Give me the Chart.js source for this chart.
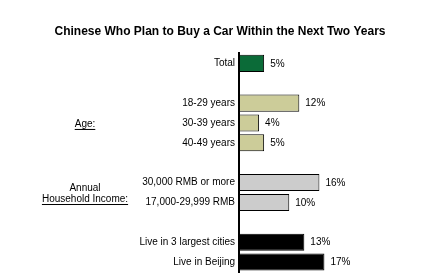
<!DOCTYPE html>
<html>
<head>
<meta charset="utf-8">
<script src="https://cdn.jsdelivr.net/npm/chart.js@4/dist/chart.umd.min.js"></script>
<style>
  html, body { margin: 0; padding: 0; background: #fff; }
  #wrap { width: 440px; height: 275px; position: relative; }
</style>
</head>
<body>
<div id="wrap"><canvas id="chart"></canvas></div>
<script>
const title = "Chinese Who Plan to Buy a Car Within the Next Two Years"
const categories = [
  "Total", "",
  "18-29 years", "30-39 years", "40-49 years", "",
  "30,000 RMB or more", "17,000-29,999 RMB", "",
  "Live in 3 largest cities", "Live in Beijing",
]
const values = [5, null, 12, 4, 5, null, 16, 10, null, 13, 17]
const barColors = [
  "#0b6b38", null,
  "#cccc99", "#cccc99", "#cccc99", null,
  "#cccccc", "#cccccc", null,
  "#000000", "#000000",
]
// group captions: [lines, index of row they sit beside]
const groups = [
  { lines: ["Age:"], underline: [true], at: 3 },
  { lines: ["Annual", "Household Income:"], underline: [false, true], at: 6.5 },
]

const font = "Arial, 'Liberation Sans', sans-serif"

const labelsPlugin = {
  id: "labels",
  afterDatasetsDraw(chart) {
    const ctx = chart.ctx
    const x = chart.scales.x
    const y = chart.scales.y
    ctx.save()
    ctx.font = "10px " + font
    ctx.fillStyle = "#000"
    ctx.textBaseline = "middle"
    ctx.textAlign = "left"
    values.forEach((v, i) => {
      if (v == null) return
      ctx.fillText(v + "%", x.getPixelForValue(v) + 6, y.getPixelForValue(i) + 0.5)
    })
    ctx.textAlign = "center"
    groups.forEach(g => {
      const cy = y.getPixelForValue(g.at)
      const n = g.lines.length
      g.lines.forEach((line, k) => {
        const ly = cy + (k - (n - 1) / 2) * 11 + 1
        ctx.fillText(line, 85, ly)
        if (g.underline[k]) {
          const w = ctx.measureText(line).width
          ctx.fillRect(85 - w / 2, ly + 5, w, 1)
        }
      })
    })
    ctx.restore()
  },
}

new Chart(document.getElementById("chart"), {
  type: "bar",
  data: {
    labels: categories,
    datasets: [{
      data: values,
      backgroundColor: barColors,
      borderColor: "#000",
      borderWidth: 1,
      borderSkipped: false,
      categoryPercentage: 1,
      barPercentage: 0.86,
    }],
  },
  options: {
    indexAxis: "y",
    responsive: true,
    maintainAspectRatio: false,
    animation: false,
    layout: { padding: { top: 0, bottom: 3, left: 0, right: 0 } },
    plugins: {
      legend: { display: false },
      tooltip: { enabled: false },
      title: {
        display: true,
        text: title,
        color: "#000",
        font: { family: font, size: 12, weight: "bold" },
        padding: { top: 24, bottom: 15 },
      },
    },
    scales: {
      x: { display: false, min: 0, max: 40 },
      y: {
        grid: { display: false, drawTicks: false },
        border: { display: true, color: "#000", width: 2 },
        ticks: {
          color: "#000",
          padding: 4,
          font: { family: font, size: 10 },
          autoSkip: false,
        },
        afterFit(scale) {
          scale.width = 239
          scale.paddingTop = 0
          scale.paddingBottom = 0
        },
      },
    },
  },
  plugins: [labelsPlugin],
})
</script>
</body>
</html>
